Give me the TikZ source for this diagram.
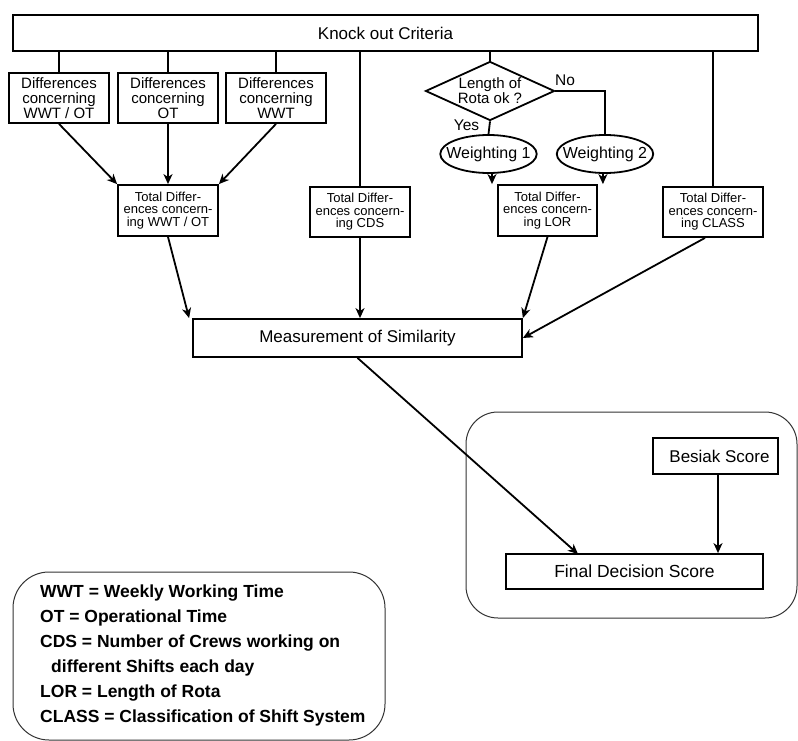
\documentclass[tikz,border=0pt]{standalone}
\usepackage{fontspec}
\setmainfont{Liberation Sans}
\usetikzlibrary{shapes.geometric,arrows.meta,calc}
\begin{document}
\begin{tikzpicture}[x=1pt,y=-1pt,
  box/.style={draw,line width=1.8pt,inner sep=0pt,align=center},
  arr/.style={line width=1.8pt,-{Stealth[length=10pt,width=9pt,inset=3pt]}},
  ln/.style={line width=1.8pt},
  fdiff/.style={font=\fontsize{15}{15}\selectfont},
  ftot/.style={font=\fontsize{13}{12.5}\selectfont},
  flab/.style={font=\fontsize{15.5}{18}\selectfont,inner sep=0pt},
  fbig/.style={font=\fontsize{17}{20}\selectfont},
  leg/.style={anchor=base west,inner sep=0pt,font=\fontsize{17.5}{20}\selectfont\bfseries},
  group/.style={draw=black!80,line width=1pt,inner sep=0pt},
  oval/.style={draw,ellipse,line width=1.8pt,inner xsep=-8pt,inner ysep=0pt,minimum height=38pt,font=\fontsize{16}{18}\selectfont}]
\useasboundingbox (0,0) rectangle (798,741);

% top bar
\node[box,minimum width=745pt,minimum height=36pt,font=\fontsize{17}{20}\selectfont] (ko) at (385.5,33) {Knock out Criteria};

% difference boxes
\node[box,fdiff,minimum width=100pt,minimum height=50pt] (d1) at (59,98) {Differences\\concerning\\WWT / OT};
\node[box,fdiff,minimum width=100pt,minimum height=50pt] (d2) at (168,98) {Differences\\concerning\\OT};
\node[box,fdiff,minimum width=100pt,minimum height=50pt] (d3) at (276,98) {Differences\\concerning\\WWT};

% total boxes
\node[box,ftot,minimum width=100pt,minimum height=51pt] (tw) at (168,210.5) {Total Differ-\\ences concern-\\ing WWT / OT};
\node[box,ftot,minimum width=100pt,minimum height=50pt] (cds) at (360,212) {Total Differ-\\ences concern-\\ing CDS};
\node[box,ftot,minimum width=99pt,minimum height=51pt] (lor) at (547.5,210.5) {Total Differ-\\ences concern-\\ing LOR};
\node[box,ftot,minimum width=100pt,minimum height=50pt] (cls) at (713,212) {Total Differ-\\ences concern-\\ing CLASS};

% decision
\node[draw,diamond,aspect=2.2,line width=1.8pt,minimum width=129pt,minimum height=59pt,inner sep=0pt,align=center,font=\fontsize{15}{11.5}\selectfont] (dia) at (490,91) {Length of\\Rota ok ?};
\node[oval] (w1) at (488.5,154) {Weighting 1};
\node[oval] (w2) at (605,154) {Weighting 2};
\node[flab] (yes) at (466.5,125) {Yes};
\node[flab] (no) at (565,80) {No};

% lower part
\node[box,fbig,minimum width=329pt,minimum height=38pt] (ms) at (357.5,338) {Measurement of Similarity};
\node[group,rounded corners=32pt,minimum width=331pt,minimum height=206pt] (grp) at (631.5,515) {};
\node[box,fbig,minimum width=125pt,minimum height=36pt] (bs) at (715.5,456) {\hspace*{8pt}Besiak Score};
\node[box,fbig,font=\fontsize{17.5}{20}\selectfont,minimum width=257pt,minimum height=35pt] (fin) at (634.5,571.5) {Final Decision Score};
\coordinate (finin) at (578,554);

% legend
\node[group,rounded corners=36pt,minimum width=372pt,minimum height=168pt] (legbox) at (199,656) {};
\node[leg] (l1) at (40,597) {WWT = Weekly Working Time};
\node[leg] (l2) at (40,622) {OT = Operational Time};
\node[leg] (l3) at (40,647) {CDS = Number of Crews working on};
\node[leg] (l4) at (51,672) {different Shifts each day};
\node[leg] (l5) at (40,697) {LOR = Length of Rota};
\node[leg] (l6) at (40,722) {CLASS = Classification of Shift System};

% connectors from top bar
\draw[ln] (ko.south -| d1.north) -- (d1.north);
\draw[ln] (ko.south -| d2.north) -- (d2.north);
\draw[ln] (ko.south -| d3.north) -- (d3.north);
\draw[ln] (ko.south -| cds.north) -- (cds.north);
\draw[ln] (ko.south -| dia.north) -- (dia.north);
\draw[ln] (ko.south -| cls.north) -- (cls.north);

% differences to total
\draw[arr] (d1.south) -- (tw.north west);
\draw[arr] (d2.south) -- (d2.south |- tw.north);
\draw[arr] (d3.south) -- (tw.north east);

% decision branches
\draw[ln] (dia.south) -- (w1.north);
\draw[ln] (dia.east) -- (dia.east -| w2.north) -- (w2.north);
\draw[arr] (w1.-80) -- (w1.-80 |- lor.north);
\draw[arr] (w2.-96) -- (w2.-96 |- lor.north);

% totals to measurement
\draw[arr] (tw.south) -- ($(ms.north west)+(-3,0)$);
\draw[arr] (cds.south) -- (cds.south |- ms.north);
\draw[arr] (lor.south) -- (ms.north east);
\draw[arr] ($(cls.south)+(-8,0)$) -- (ms.east);

% to final
\draw[arr] (ms.south) -- (finin);
\draw[arr] (bs.south -| 718,0) -- (718,0 |- fin.north);
\end{tikzpicture}
\end{document}
